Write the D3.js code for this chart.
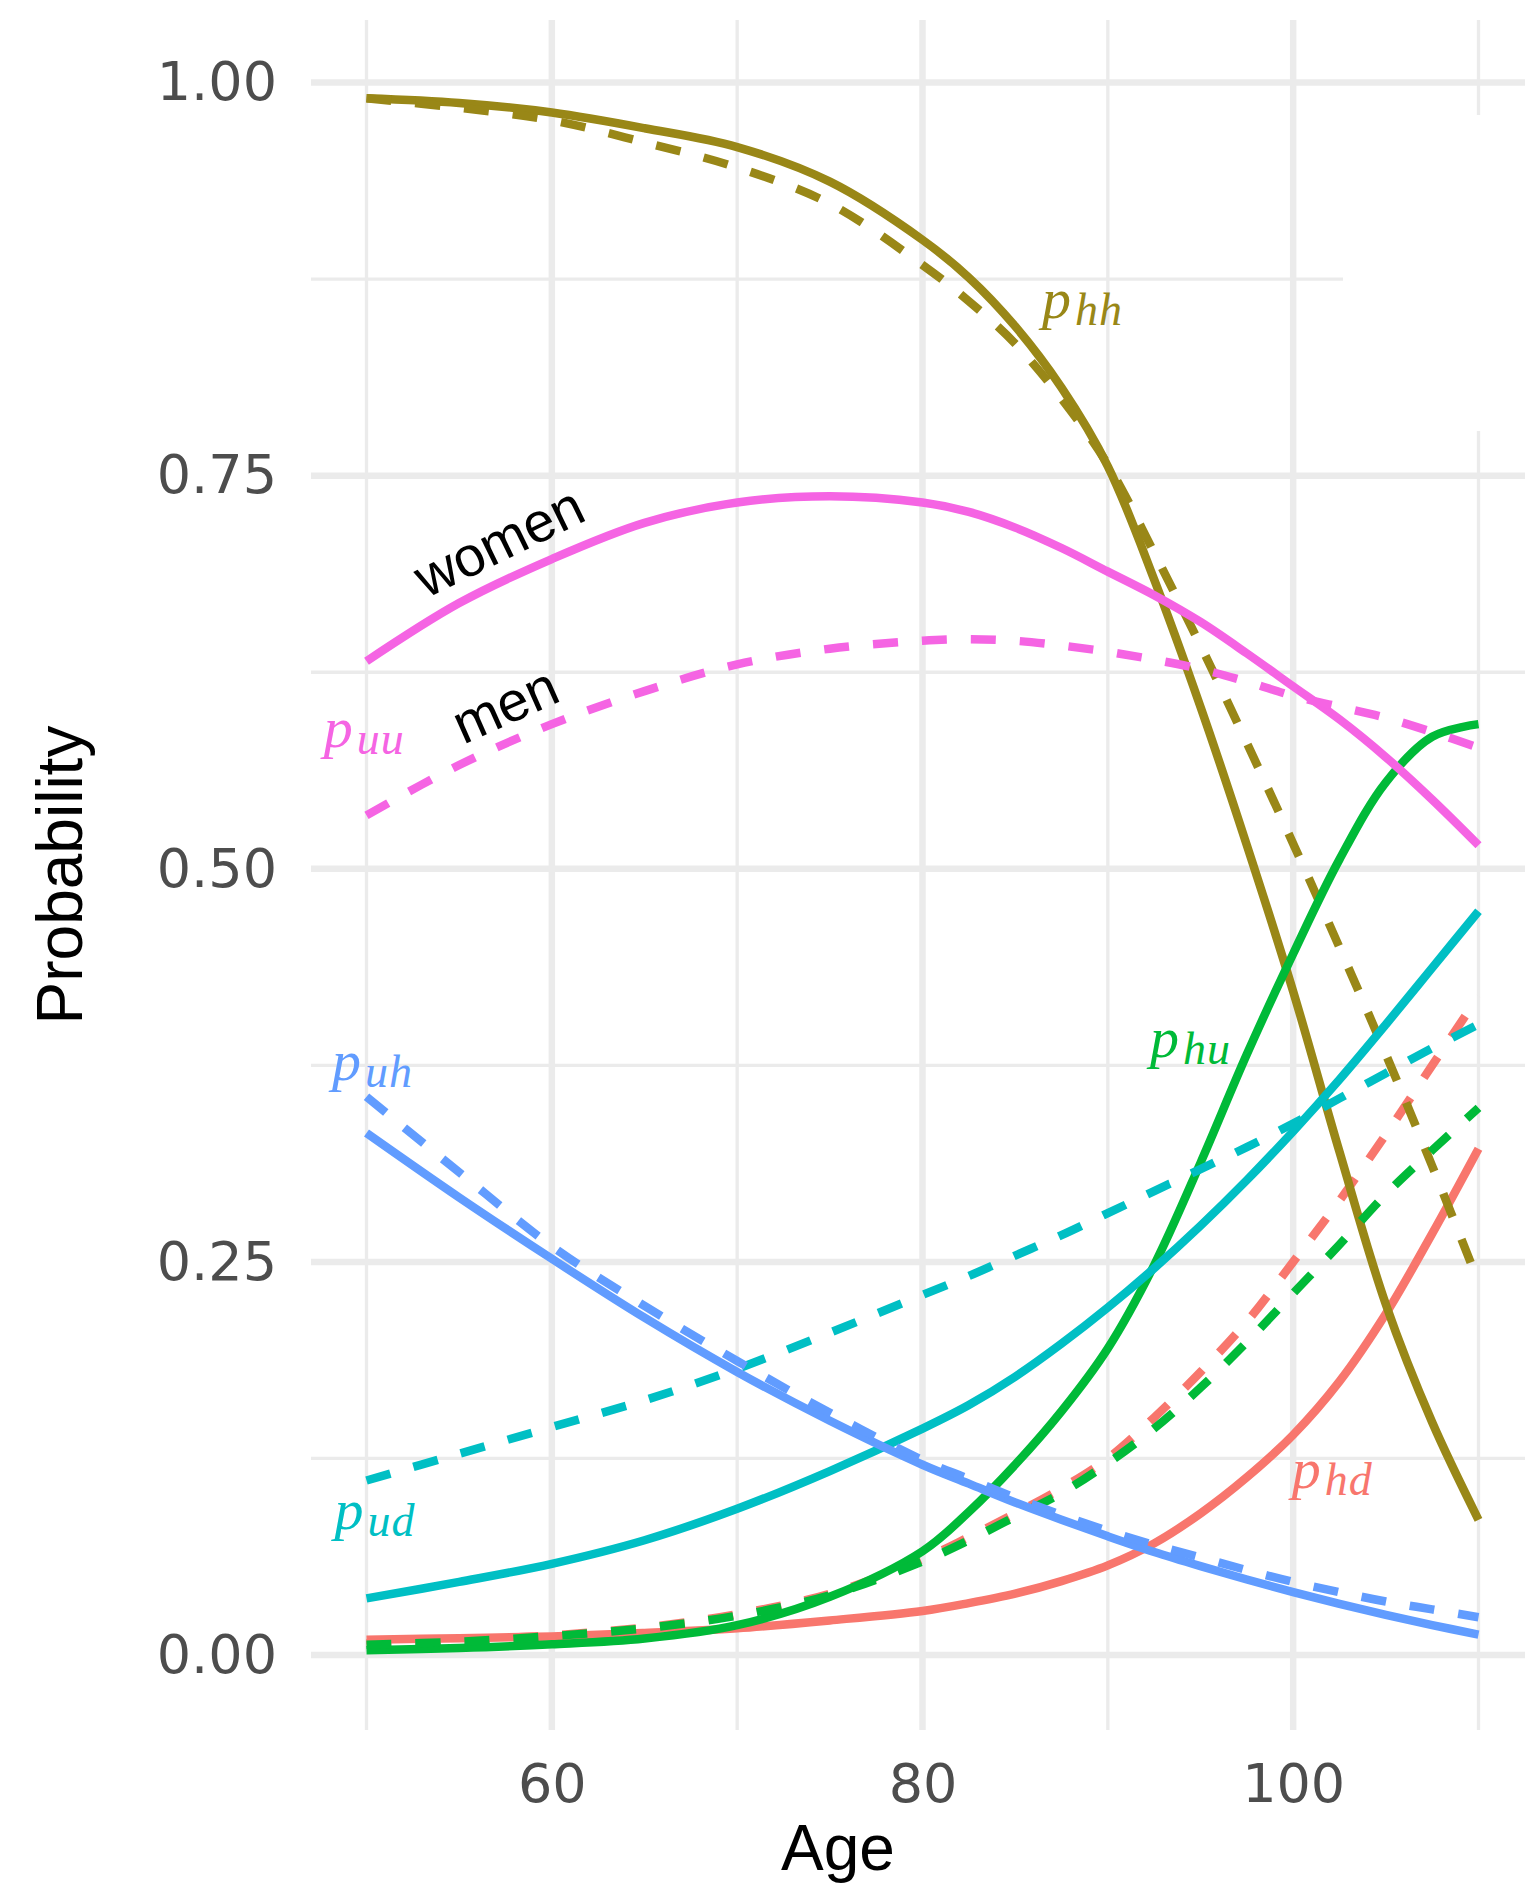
<!DOCTYPE html>
<html>
<head>
<meta charset="utf-8">
<script src="https://cdn.jsdelivr.net/npm/d3@7"></script>
<style>
  body { margin: 0; background: #fff; }
  svg { display: block; }
</style>
</head>
<body>
<svg width="1525" height="1889"></svg>
<script>
const ages = [50, 55, 60, 65, 70, 75, 80, 82.5, 85, 87.5, 90, 92.5, 95, 97.5, 100, 102.5, 105, 107.5, 110];

// transition probabilities, women (solid) and men (dashed)
const phdWomen = [0.0097, 0.0107, 0.0118, 0.014, 0.017, 0.022, 0.028, 0.033, 0.039, 0.047, 0.057, 0.071, 0.090, 0.113, 0.140, 0.174, 0.217, 0.268, 0.322];
const phdMen = [0.0075, 0.0095, 0.0125, 0.0175, 0.026, 0.039, 0.061, 0.075, 0.090, 0.106, 0.125, 0.151, 0.180, 0.212, 0.250, 0.289, 0.331, 0.375, 0.419];
const phhWomen = [0.990, 0.987, 0.981, 0.971, 0.959, 0.937, 0.900, 0.876, 0.845, 0.806, 0.756, 0.684, 0.603, 0.515, 0.422, 0.320, 0.223, 0.148, 0.086];
const phhMen = [0.990, 0.984, 0.976, 0.962, 0.946, 0.923, 0.884, 0.861, 0.834, 0.799, 0.757, 0.701, 0.642, 0.580, 0.516, 0.450, 0.382, 0.311, 0.237];
const phuWomen = [0.003, 0.0045, 0.0068, 0.0105, 0.019, 0.037, 0.066, 0.091, 0.121, 0.155, 0.195, 0.248, 0.313, 0.382, 0.446, 0.506, 0.555, 0.584, 0.592];
const phuMen = [0.0065, 0.0085, 0.012, 0.017, 0.025, 0.038, 0.0595, 0.073, 0.088, 0.103, 0.122, 0.144, 0.170, 0.199, 0.230, 0.261, 0.293, 0.321, 0.348];
const pudWomen = [0.036, 0.0465, 0.058, 0.073, 0.093, 0.117, 0.144, 0.159, 0.177, 0.198, 0.221, 0.246, 0.273, 0.302, 0.333, 0.366, 0.401, 0.437, 0.473];
const pudMen = [0.111, 0.128, 0.145, 0.162, 0.182, 0.205, 0.229, 0.241, 0.254, 0.267, 0.281, 0.295, 0.309, 0.323, 0.338, 0.354, 0.370, 0.386, 0.401];
const puhWomen = [0.332, 0.291, 0.252, 0.2145, 0.180, 0.149, 0.121, 0.109, 0.097, 0.086, 0.0755, 0.0655, 0.0565, 0.048, 0.040, 0.0325, 0.0255, 0.019, 0.013];
const puhMen = [0.355, 0.307, 0.260, 0.222, 0.187, 0.154, 0.124, 0.112, 0.100, 0.089, 0.079, 0.070, 0.062, 0.054, 0.0465, 0.040, 0.034, 0.029, 0.024];
const puuWomen = [0.632, 0.669, 0.697, 0.720, 0.733, 0.737, 0.733, 0.727, 0.717, 0.704, 0.689, 0.674, 0.657, 0.637, 0.616, 0.595, 0.571, 0.544, 0.515];
const puuMen = [0.534, 0.566, 0.592, 0.613, 0.630, 0.640, 0.645, 0.646, 0.645, 0.642, 0.638, 0.633, 0.627, 0.619, 0.610, 0.603, 0.596, 0.587, 0.577];

// curve labels (p with subscript), placed in data coordinates
const transitions = ["hd", "hh", "hu", "ud", "uh", "uu"];
const transColors = ["#F8766D", "#998717", "#00BA38", "#00BFC4", "#619CFF", "#F564E3"];
const labelAges = [99.93, 86.45, 92.28, 48.27, 48.14, 47.7];
const labelProbs = [0.106, 0.850, 0.380, 0.080, 0.366, 0.5775];

const sexLabels = ["women", "men"];
const sexLabelAges = [57.6, 57.9];
const sexLabelProbs = [0.697, 0.593];
const sexLabelAngles = [-26, -24];

// axis ticks
const xMajor = [60, 80, 100], xMinor = [50, 70, 90, 110];
const yMajor = [0, 0.25, 0.5, 0.75, 1], yMinor = [0.125, 0.375, 0.625, 0.875];

const svg = d3.select("svg"),
    width = +svg.attr("width"),
    height = +svg.attr("height");

const x = d3.scaleLinear().domain([47, 113]).range([310.9, 1534.1]);
const y = d3.scaleLinear().domain([0, 1]).range([1655, 82.6]);
const panelTop = 20, panelBottom = 1730, panelLeft = 311;

svg.append("rect")
    .attr("width", width)
    .attr("height", height)
    .attr("fill", "#fff");

// grid
const grid = svg.append("g").attr("stroke", "#EBEBEB");
grid.selectAll("line.ymin").data(yMinor).enter().append("line")
    .attr("x1", panelLeft).attr("x2", width)
    .attr("y1", d => y(d)).attr("y2", d => y(d))
    .attr("stroke-width", 3.3);
grid.selectAll("line.xmin").data(xMinor).enter().append("line")
    .attr("x1", d => x(d)).attr("x2", d => x(d))
    .attr("y1", panelTop).attr("y2", panelBottom)
    .attr("stroke-width", 3.3);
grid.selectAll("line.ymaj").data(yMajor).enter().append("line")
    .attr("x1", panelLeft).attr("x2", width)
    .attr("y1", d => y(d)).attr("y2", d => y(d))
    .attr("stroke-width", 6.5);
grid.selectAll("line.xmaj").data(xMajor).enter().append("line")
    .attr("x1", d => x(d)).attr("x2", d => x(d))
    .attr("y1", panelTop).attr("y2", panelBottom)
    .attr("stroke-width", 6.5);

// blank box over the upper right of the panel (as in the original)
svg.append("rect")
    .attr("x", 1343).attr("y", 115)
    .attr("width", width - 1343).attr("height", 316)
    .attr("fill", "#fff");

// curves
const byTransition = {
    hd: [phdWomen, phdMen],
    hh: [phhWomen, phhMen],
    hu: [phuWomen, phuMen],
    ud: [pudWomen, pudMen],
    uh: [puhWomen, puhMen],
    uu: [puuWomen, puuMen]
};

const line = d3.line()
    .x((d, i) => x(ages[i]))
    .y(d => y(d))
    .curve(d3.curveCatmullRom.alpha(0.5));

const curves = svg.append("g").attr("fill", "none").attr("stroke-width", 8.5);
transitions.forEach(function (t, k) {
    const pair = byTransition[t];
    curves.append("path")
        .attr("d", line(pair[0]))
        .attr("stroke", transColors[k]);
    curves.append("path")
        .attr("d", line(pair[1]))
        .attr("stroke", transColors[k])
        .attr("stroke-dasharray", "25,24");
});

// p_xy labels
const labels = svg.append("g")
    .attr("font-family", "'Liberation Serif', serif")
    .attr("font-style", "italic");
transitions.forEach(function (t, k) {
    const txt = labels.append("text")
        .attr("x", x(labelAges[k]))
        .attr("y", y(labelProbs[k]))
        .attr("fill", transColors[k])
        .attr("font-size", 58)
        .text("p");
    txt.append("tspan")
        .attr("dx", 4)
        .attr("dy", 7)
        .attr("font-size", 46)
        .attr("letter-spacing", 1)
        .text(t);
});

// women / men
sexLabels.forEach(function (s, k) {
    const px = x(sexLabelAges[k]), py = y(sexLabelProbs[k]);
    svg.append("text")
        .attr("transform", "translate(" + px + "," + py + ") rotate(" + sexLabelAngles[k] + ")")
        .attr("text-anchor", "middle")
        .attr("font-family", "'Liberation Sans', Arial, sans-serif")
        .attr("font-size", 56)
        .attr("fill", "#000")
        .text(s);
});

// axes
const yAxis = svg.append("g")
    .attr("transform", "translate(" + panelLeft + ",0)")
    .call(d3.axisLeft(y).tickValues(yMajor).tickFormat(d3.format(".2f")).tickSize(0).tickPadding(34));
yAxis.select(".domain").remove();
yAxis.selectAll("text")
    .attr("font-family", "'DejaVu Sans', sans-serif")
    .attr("font-size", 54)
    .attr("fill", "#4D4D4D");

const xAxis = svg.append("g")
    .attr("transform", "translate(0," + panelBottom + ")")
    .call(d3.axisBottom(x).tickValues(xMajor).tickFormat(d3.format("d")).tickSize(0).tickPadding(34));
xAxis.select(".domain").remove();
xAxis.selectAll("text")
    .attr("font-family", "'DejaVu Sans', sans-serif")
    .attr("font-size", 54)
    .attr("fill", "#4D4D4D");

svg.append("text")
    .attr("x", 838)
    .attr("y", 1870)
    .attr("text-anchor", "middle")
    .attr("font-family", "'Liberation Sans', Arial, sans-serif")
    .attr("font-size", 64)
    .attr("fill", "#000")
    .text("Age");

svg.append("text")
    .attr("transform", "translate(82," + (panelTop + panelBottom) / 2 + ") rotate(-90)")
    .attr("text-anchor", "middle")
    .attr("font-family", "'Liberation Sans', Arial, sans-serif")
    .attr("font-size", 64)
    .attr("fill", "#000")
    .text("Probability");
</script>
</body>
</html>
